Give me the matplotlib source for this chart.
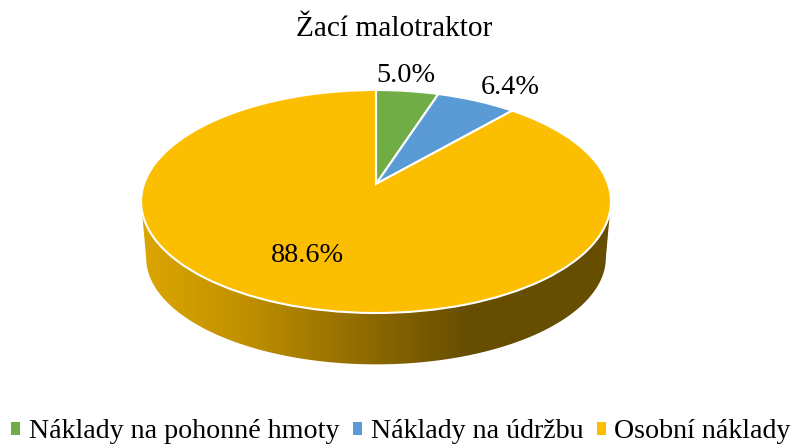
import numpy as np
import matplotlib
matplotlib.use("Agg")
import matplotlib.pyplot as plt
from matplotlib.transforms import Transform
from matplotlib.patches import Patch, Polygon
from matplotlib.colors import LinearSegmentedColormap

title = "Žací malotraktor"
categories = ["Náklady na pohonné hmoty", "Náklady na údržbu", "Osobní náklady"]
values = [5.0, 6.4, 88.6]
colors = ["#70AD47", "#5B9BD5", "#FCBE00"]

plt.rcParams["font.family"] = ["Liberation Serif", "DejaVu Serif"]
W, H = 795, 445
fig = plt.figure(figsize=(W / 100, H / 100), dpi=100)
ax = fig.add_axes([0, 0, 1, 1])


class Tilt(Transform):
    """Perspective view of the pie's plane, output in pixel-like axis units."""
    input_dims = output_dims = 2
    is_separable = False
    has_inverse = False

    def __init__(self, rx, ry, cx, cy, k):
        super().__init__()
        self.p = (rx, ry, cx, cy, k)

    def transform_non_affine(self, xy):
        rx, ry, cx, cy, k = self.p
        xy = np.asarray(xy, float)
        d = 1 + k * xy[:, 1]
        return np.column_stack([cx + rx * xy[:, 0] / d, cy - ry * xy[:, 1] / d])


k = 0.157
top = Tilt(232, 108.75, 376, 184, k)
bottom = Tilt(227, 104, 376, 241, k)

wedges, _ = ax.pie(values, colors=colors, startangle=90, counterclock=False,
                   wedgeprops=dict(edgecolor="white", linewidth=1.5))
for w in wedges:
    w.set_transform(top + ax.transData)
    w.set_zorder(3)

# extruded rim below the front of the disc
lim = np.degrees(np.arcsin(k))
t = np.radians(np.linspace(180 + lim, 360 - lim, 240))
circ = np.column_stack([np.cos(t), np.sin(t)])
low = bottom.transform_non_affine(circ)
up = top.transform_non_affine(circ[::-1])
rim = Polygon(np.vstack([low, up]), closed=True, transform=ax.transData,
              facecolor="none", edgecolor="none")
ax.add_patch(rim)
stops = [(0.0, "#DCA600"), (0.22, "#C09000"), (0.5, "#8A6700"), (0.70, "#664D00"), (1.0, "#664D00")]
cmap = LinearSegmentedColormap.from_list("rim", stops)
img = ax.imshow(np.linspace(0, 1, 512)[None, :], extent=(141, 611, 370, 190),
                aspect="auto", cmap=cmap, zorder=2)
img.set_clip_path(rim)

ax.set_aspect("auto")
ax.set_xlim(0, W)
ax.set_ylim(H, 0)
ax.axis("off")

ax.set_title(title, x=394 / W, y=1 - 29 / H, va="center", ha="center", fontsize=21.2, pad=0)
label_pos = [(406, 73), (510, 84), (307, 252)]
for v, (x, y) in zip(values, label_pos):
    ax.text(x, y, f"{v:.1f}%", ha="center", va="center_baseline", fontsize=20.3, zorder=5)

handles = [Patch(facecolor=c, edgecolor="none") for c in colors]
ax.legend(handles, categories, loc="center", bbox_to_anchor=(401 / W, 1 - 432 / H), ncols=3,
          frameon=False, fontsize=20.2, handlelength=0.32, handleheight=0.32,
          handletextpad=0.32, columnspacing=0.47, borderpad=0, borderaxespad=0)

fig.savefig("out.png", dpi=100)
